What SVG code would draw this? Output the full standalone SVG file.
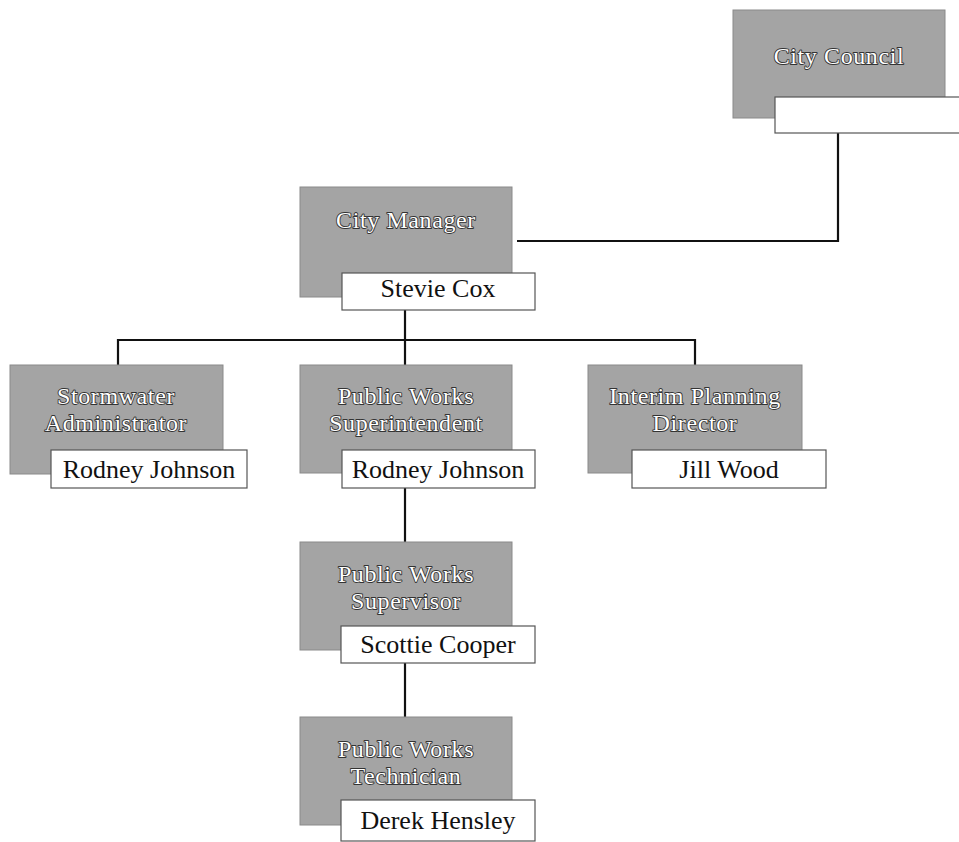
<svg xmlns="http://www.w3.org/2000/svg" width="959" height="842" viewBox="0 0 959 842">
<style>
.title{fill:#a4a4a4;stroke:#8a8a8a;stroke-width:1}
.name{fill:#fff;stroke:#555;stroke-width:1.2}
.t{font-family:"Liberation Serif","Times New Roman",serif;font-size:24px;letter-spacing:0.6px;fill:#fff;stroke:#333;stroke-width:1.8;paint-order:stroke;stroke-linejoin:round;text-anchor:middle}
.n{font-family:"Liberation Serif","Times New Roman",serif;font-size:26px;fill:#111;text-anchor:middle}
.c{fill:none;stroke:#111;stroke-width:2.2}
</style>
<rect width="959" height="842" fill="#fff"/>
<g id="connectors">
<polyline class="c" points="838,133 838,241 517,241"/>
<line class="c" x1="405" y1="310" x2="405" y2="365"/>
<polyline class="c" points="118,365 118,340 695,340 695,365"/>
<line class="c" x1="405" y1="488" x2="405" y2="542"/>
<line class="c" x1="405" y1="663" x2="405" y2="717"/>
</g>
<g id="city-council">
<rect class="title" x="733" y="10" width="212" height="108"/>
<text class="t" x="839" y="64">City Council</text>
<rect class="name" x="775" y="97" width="190" height="36"/>
</g>
<g id="city-manager">
<rect class="title" x="300" y="187" width="212" height="110"/>
<text class="t" x="406" y="228">City Manager</text>
<rect class="name" x="342" y="273" width="193" height="37"/>
<text class="n" x="438" y="297">Stevie Cox</text>
</g>
<g id="stormwater-administrator">
<rect class="title" x="10" y="365" width="213" height="109"/>
<text class="t" x="116" y="404">Stormwater</text>
<text class="t" x="116" y="431">Administrator</text>
<rect class="name" x="51" y="450" width="196" height="38"/>
<text class="n" x="149" y="478">Rodney Johnson</text>
</g>
<g id="public-works-superintendent">
<rect class="title" x="300" y="365" width="212" height="108"/>
<text class="t" x="406" y="404">Public Works</text>
<text class="t" x="406" y="431">Superintendent</text>
<rect class="name" x="342" y="450" width="193" height="38"/>
<text class="n" x="438" y="478">Rodney Johnson</text>
</g>
<g id="interim-planning-director">
<rect class="title" x="588" y="365" width="214" height="108"/>
<text class="t" x="695" y="404">Interim Planning</text>
<text class="t" x="695" y="431">Director</text>
<rect class="name" x="632" y="450" width="194" height="38"/>
<text class="n" x="729" y="478">Jill Wood</text>
</g>
<g id="public-works-supervisor">
<rect class="title" x="300" y="542" width="212" height="108"/>
<text class="t" x="406" y="582">Public Works</text>
<text class="t" x="406" y="609">Supervisor</text>
<rect class="name" x="341" y="626" width="194" height="37"/>
<text class="n" x="438" y="653">Scottie Cooper</text>
</g>
<g id="public-works-technician">
<rect class="title" x="300" y="717" width="212" height="108"/>
<text class="t" x="406" y="757">Public Works</text>
<text class="t" x="406" y="784">Technician</text>
<rect class="name" x="341" y="800" width="194" height="41"/>
<text class="n" x="438" y="829">Derek Hensley</text>
</g>
</svg>
